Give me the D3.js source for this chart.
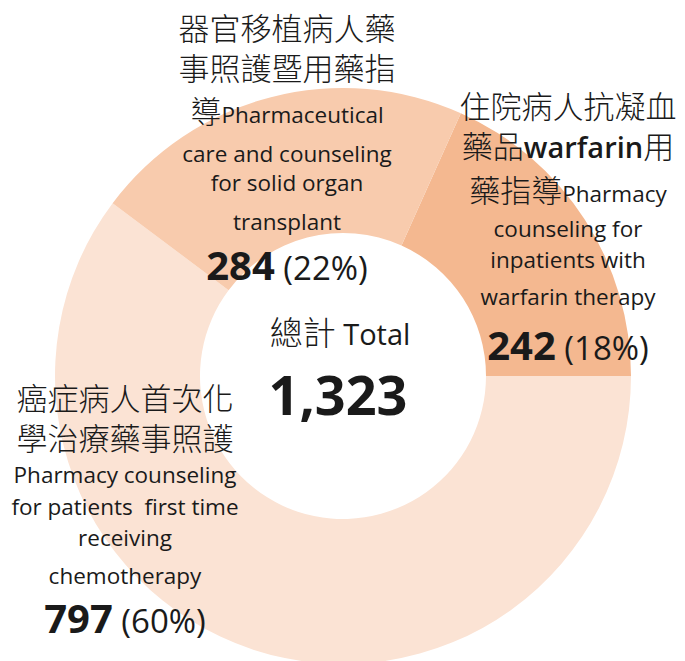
<!DOCTYPE html>
<html>
<head>
<meta charset="utf-8">
<script src="https://cdn.jsdelivr.net/npm/d3@7"></script>
<style>
  body { margin: 0; background: #ffffff; }
  text { fill: #1a1a1a; white-space: pre; }
  .cjk { font-family: "Noto Sans CJK TC", "Noto Sans CJK SC", sans-serif; font-size: 31px; font-weight: 300; }
  .en { font-family: "Open Sans", sans-serif; font-size: 22.5px; }
  .enb { font-family: "Open Sans", sans-serif; font-size: 29px; font-weight: 600; }
  .num { font-family: "Open Sans", sans-serif; font-size: 40px; font-weight: 700; }
  .pct { font-family: "Open Sans", sans-serif; font-size: 33px; }
</style>
</head>
<body>
<script>
(function () {

    var w = 685;
    var h = 661;

    // data, order as drawn clockwise from the warfarin slice
    var categories = ["warfarin", "chemotherapy", "transplant"];
    var values = [242, 797, 284];
    var pctLabels = ["18%", "60%", "22%"];
    var colors = ["#f4b890", "#fbe3d4", "#f8cbad"];
    var totalLabel = "1,323";

    // label lines, each line a list of [text, style] pieces
    var labelLines = [
        [
            [["住院病人抗凝血", "cjk"]],
            [["藥品", "cjk"], ["warfarin", "enb"], ["用", "cjk"]],
            [["藥指導", "cjk"], ["Pharmacy", "en"]],
            [["counseling for", "en"]],
            [["inpatients with", "en"]],
            [["warfarin therapy", "en"]]
        ],
        [
            [["癌症病人首次化", "cjk"]],
            [["學治療藥事照護", "cjk"]],
            [["Pharmacy counseling", "en"]],
            [["for patients  first time", "en"]],
            [["receiving", "en"]],
            [["chemotherapy", "en"]]
        ],
        [
            [["器官移植病人藥", "cjk"]],
            [["事照護暨用藥指", "cjk"]],
            [["導", "cjk"], ["Pharmaceutical", "en"]],
            [["care and counseling", "en"]],
            [["for solid organ", "en"]],
            [["transplant", "en"]]
        ]
    ];

    // where each label block sits: x centre and the baseline of every line
    var labelPos = [
        { x: 568, ys: [118, 158, 202, 237, 268, 305, 360] },
        { x: 125, ys: [410, 450, 483, 515, 546, 584, 633] },
        { x: 287, ys: [40, 80, 123, 162, 191, 230, 280] }
    ];

    var cx = 343, cy = 376;
    var outerR = 288, innerR = 143;

    var svg = d3.select("body").append("svg")
        .attr("width", w)
        .attr("height", h);

    var total = d3.sum(values);
    var start = Math.PI / 2 - 2 * Math.PI * values[0] / total;
    var pie = d3.pie()
        .sort(null)
        .startAngle(start)
        .endAngle(start + 2 * Math.PI);

    var arc = d3.arc()
        .innerRadius(innerR)
        .outerRadius(outerR);

    var g = svg.append("g")
        .attr("transform", "translate(" + cx + "," + cy + ")");

    g.selectAll("path")
        .data(pie(values))
        .enter()
        .append("path")
        .attr("d", arc)
        .attr("fill", function (d, i) { return colors[i]; });

    // slice labels
    labelLines.forEach(function (lines, i) {
        var pos = labelPos[i];
        lines.forEach(function (pieces, j) {
            var t = svg.append("text")
                .attr("x", pos.x)
                .attr("y", pos.ys[j])
                .attr("text-anchor", "middle");
            pieces.forEach(function (p) {
                t.append("tspan").attr("class", p[1]).text(p[0]);
            });
        });
        var n = svg.append("text")
            .attr("x", pos.x)
            .attr("y", pos.ys[lines.length])
            .attr("text-anchor", "middle");
        n.append("tspan").attr("class", "num").text(d3.format(",")(values[i]));
        n.append("tspan").attr("class", "pct").text(" (" + pctLabels[i] + ")");
    });

    // centre total
    var c1 = svg.append("text")
        .attr("x", 340)
        .attr("y", 345)
        .attr("text-anchor", "middle");
    c1.append("tspan").attr("class", "cjk").style("font-size", "33px").text("總計");
    c1.append("tspan").attr("class", "en").style("font-size", "29px").text(" Total");

    svg.append("text")
        .attr("x", 338)
        .attr("y", 415)
        .attr("text-anchor", "middle")
        .attr("font-family", "Open Sans, sans-serif")
        .attr("font-size", 54)
        .attr("font-weight", "bold")
        .text(totalLabel);
})();
</script>
</body>
</html>
